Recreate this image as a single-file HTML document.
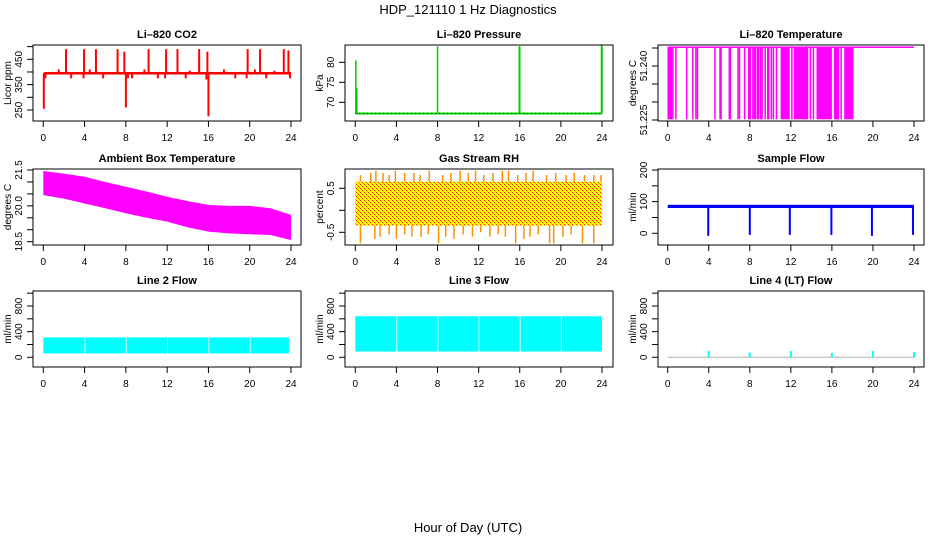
<!DOCTYPE html>
<html><head><meta charset="utf-8">
<style>
body{margin:0;background:#fff;}
svg{display:block;font-family:"Liberation Sans",sans-serif;}
</style></head>
<body>
<svg id="c" width="936" height="540">
<defs>
<pattern id="rhpat" width="4" height="4" patternUnits="userSpaceOnUse">
<rect width="4" height="4" fill="#ffff00"/>
<rect x="0" y="0" width="1" height="1" fill="#ff2000"/>
<rect x="2" y="2" width="1" height="1" fill="#ff2000"/>
<rect x="1" y="1" width="1" height="1" fill="#ff8000"/>
<rect x="3" y="3" width="1" height="1" fill="#ff8000"/>
</pattern>
</defs>
<text x="468" y="14" text-anchor="middle" font-size="13">HDP_121110  1 Hz Diagnostics</text>
<text x="468" y="532" text-anchor="middle" font-size="13">Hour of Day (UTC)</text>
</svg>
<script>
// ---- data ----
const hourTicks = [0,4,8,12,16,20,24];
// CO2
const co2BandLow = 390, co2BandHigh = 400;
const co2SpikeT = [0.05,2.2,3.95,5.1,7.2,7.85,8.0,10.2,11.9,13.0,15.1,15.9,16.0,19.8,21.0,23.3,23.75,1.5,4.5,9.8,14.2,17.5,20.5,22.4];
const co2SpikeV = [255,490,490,490,490,480,260,490,490,490,490,480,225,490,490,490,485,410,410,410,405,410,410,405];
const co2DipT = [0.2,2.7,3.9,5.8,8.2,8.6,11.1,11.8,13.8,15.8,18.6,19.7,21.6,23.9];
const co2DipV = [375,375,375,375,375,375,375,375,375,370,375,375,375,375];
// Pressure
const presBase = 67.2;
const presSpikeT = [0.05,0.15,8.0,15.95,16.0,23.95,24.0];
const presSpikeV = [80.5,73.5,84,84,84,84.5,84];
// Li-820 temperature
const tempTop = 51.2452, tempLow = 51.2252;
const tempDropT = [0.05,0.1,0.25,0.35,0.5,0.8,1.85,2.45,2.75,2.9,4.6,5.1,5.2,6.0,6.1,6.85,7.0,7.5,7.9,8.05,8.3,8.45,8.55,8.75,8.85,9.05,9.2,9.5,9.75,9.85,10.1,10.3,10.6,11.6,12.1,13.9,14.2,16.4,16.9];
const tempFillStart = [11.0,12.3,14.5,16.2,17.2];
const tempFillEnd = [11.9,13.7,16.0,16.7,18.1];
// Ambient box temperature
const ambT = [0,2,4,6,8,10,12,14,16,18,20,22,24];
const ambHigh = [21.46,21.35,21.22,21.0,20.8,20.6,20.38,20.2,20.04,20.0,20.0,19.9,19.62];
const ambLow = [20.45,20.3,20.1,19.9,19.69,19.5,19.34,19.1,18.92,18.85,18.81,18.78,18.57];
// Gas stream RH
const rhHigh = 0.65, rhLow = -0.35;
const rhUpT = [0.5,1.5,2.0,2.7,3.3,3.9,4.8,5.7,6.3,7.2,8.5,9.3,10.2,11.0,11.7,12.5,13.4,14.3,14.9,15.8,16.6,17.3,18.6,19.5,20.5,21.3,22.3,23.2,23.9];
const rhUpV = [0.8,0.85,0.9,0.85,0.8,0.9,0.85,0.85,0.8,0.9,0.8,0.85,0.9,0.85,0.9,0.8,0.85,0.9,0.9,0.8,0.85,0.9,0.8,0.85,0.8,0.85,0.8,0.8,0.8];
const rhDnT = [0.5,1.9,2.4,3.3,4.0,4.8,5.5,6.4,7.1,8.1,8.8,9.6,10.5,11.4,12.2,13.1,13.9,14.6,15.6,16.4,17.0,17.8,18.9,19.3,20.2,21.0,22.1,23.2];
const rhDnV = [-0.75,-0.65,-0.6,-0.55,-0.65,-0.55,-0.6,-0.6,-0.55,-0.75,-0.6,-0.65,-0.55,-0.6,-0.5,-0.6,-0.55,-0.6,-0.75,-0.65,-0.6,-0.55,-0.75,-0.75,-0.6,-0.55,-0.75,-0.75];
// Sample flow
const sfLow = 80, sfHigh = 90;
const sfDropT = [3.95,8.0,11.9,15.95,19.9,23.9];
const sfDropV = [-8,-5,-5,-5,-8,-5];
// Line 2 / Line 3
const flowGapT = [4,8,12,16,20];
const l2Low = 60, l2High = 310, l2End = 23.8;
const l3Low = 90, l3High = 640, l3End = 24.0;
// Line 4
const l4SpikeT = [4,8,12,16,20,24];
const l4SpikeV = [100,75,100,70,100,80];

// ---- layout ----
const svg = document.getElementById('c');
const NS = 'http://www.w3.org/2000/svg';
const cols = [{l:33,r:301,x0:43.3,x1:291},{l:345,r:613,x0:355.3,x1:602},{l:658,r:924,x0:667.7,x1:914}];
const rows = [{t:45,b:121},{t:169,b:245},{t:291,b:367}];
function el(tag, attrs, parent){const e=document.createElementNS(NS,tag);for(const k in attrs)e.setAttribute(k,attrs[k]);(parent||svg).appendChild(e);return e;}
function panel(name,title,ci,ri,v1,y1,v2,y2,ticks,labels,ylab){
  const c=cols[ci], r=rows[ri];
  const g=el('g',{});
  
  
  const P={g:g,c:c,r:r,
    x:t=>c.x0+(c.x1-c.x0)*t/24,
    y:v=>y1+(v-v1)*(y2-y1)/(v2-v1)};
  const tt=el('text',{x:(c.l+c.r)/2,y:r.t-7,'text-anchor':'middle','font-size':11,'font-weight':'bold'},g);
  tt.textContent=title;
  
  
  P.marks=el('g',{},g);
  const box=el('rect',{x:c.l,y:r.t,width:c.r-c.l,height:r.b-r.t,fill:'none',stroke:'#000','stroke-width':1},g);
  
  
  const xa=el('g',{},g);
  
  
  el('line',{x1:P.x(0),x2:P.x(24),y1:r.b,y2:r.b,stroke:'#000'},xa);
  hourTicks.forEach(h=>{
    el('line',{x1:P.x(h),x2:P.x(h),y1:r.b,y2:r.b+6,stroke:'#000'},xa);
    const t=el('text',{x:P.x(h),y:r.b+20,'text-anchor':'middle','font-size':10},xa);t.textContent=h;
  });
  const ya=el('g',{},g);
  
  
  el('line',{x1:c.l,x2:c.l,y1:P.y(ticks[0]),y2:P.y(ticks[ticks.length-1]),stroke:'#000'},ya);
  ticks.forEach(v=>el('line',{x1:c.l-6,x2:c.l,y1:P.y(v),y2:P.y(v),stroke:'#000'},ya));
  labels.forEach(s=>{
    const yy=P.y(parseFloat(s));
    const t=el('text',{x:c.l-11,y:yy,'text-anchor':'middle','font-size':10,transform:`rotate(-90 ${c.l-11} ${yy})`},ya);t.textContent=s;
  });
  const yl=el('text',{x:c.l-22,y:(r.t+r.b)/2,'text-anchor':'middle','font-size':10,transform:`rotate(-90 ${c.l-22} ${(r.t+r.b)/2})`},g);
  yl.textContent=ylab;
  
  
  return P;
}
function vline(P,t,a,b,color,w){el('line',{x1:P.x(t),x2:P.x(t),y1:P.y(a),y2:P.y(b),stroke:color,'stroke-width':w||1.5},P.marks);}
function band(P,t0,t1,lo,hi,fill){el('rect',{x:P.x(t0),y:P.y(hi),width:P.x(t1)-P.x(t0),height:P.y(lo)-P.y(hi),fill:fill},P.marks);}

// CO2
let P=panel('co2','Li\u2013820 CO2',0,0,250,110,450,59.3,[250,300,350,400,450,500],['250','350','450'],'Licor ppm');
band(P,0.05,24,co2BandLow,co2BandHigh,'#ff0000');
co2SpikeT.forEach((t,i)=>vline(P,t,395,co2SpikeV[i],'#ff0000',2));
co2DipT.forEach((t,i)=>vline(P,t,392,co2DipV[i],'#ff0000',2));
// Pressure
P=panel('pressure','Li\u2013820 Pressure',1,0,70,102.3,80,62.3,[70,75,80],['70','75','80'],'kPa');
el('line',{x1:P.x(0),x2:P.x(24),y1:P.y(presBase),y2:P.y(presBase),stroke:'#00dd00','stroke-width':2},P.marks);
el('line',{x1:P.x(0),x2:P.x(24),y1:P.y(presBase),y2:P.y(presBase),stroke:'#000','stroke-width':1,'stroke-dasharray':'1 3'},P.marks);
presSpikeT.forEach((t,i)=>vline(P,t,presBase,presSpikeV[i],'#00cc00',1.5));
// Temperature
P=panel('li820-temp','Li\u2013820 Temperature',2,0,51.225,120,51.240,66,[51.225,51.230,51.235,51.240,51.245],['51.225','51.240'],'degrees C');
el('line',{x1:P.x(0),x2:P.x(24),y1:P.y(tempTop),y2:P.y(tempTop),stroke:'#ff00ff','stroke-width':1.5},P.marks);
tempDropT.forEach(t=>vline(P,t,tempTop,tempLow,'#ff00ff',1.5));
tempFillStart.forEach((s,i)=>band(P,s,tempFillEnd[i],tempLow,tempTop,'#ff00ff'));
// Ambient
P=panel('ambient-temp','Ambient Box Temperature',0,1,21.5,170,18.5,241.7,[18.5,19,19.5,20,20.5,21,21.5],['18.5','20.0','21.5'],'degrees C');
{let pts=ambT.map((t,i)=>P.x(t)+','+P.y(ambHigh[i]));
 for(let i=ambT.length-1;i>=0;i--)pts.push(P.x(ambT[i])+','+P.y(ambLow[i]));
 el('polygon',{points:pts.join(' '),fill:'#ff00ff'},P.marks);}
// RH
P=panel('gas-rh','Gas Stream RH',1,1,0.5,188.3,-0.5,232.3,[-0.5,0,0.5],['-0.5','0.5'],'percent');
band(P,0,24,rhLow,rhHigh,'url(#rhpat)');
rhUpT.forEach((t,i)=>vline(P,t,rhHigh,rhUpV[i],'#ff9000',1.5));
rhDnT.forEach((t,i)=>vline(P,t,rhLow,rhDnV[i],'#ff9000',1.5));
// Sample flow
P=panel('sample-flow','Sample Flow',2,1,0,233.3,200,170,[0,50,100,150,200],['0','100','200'],'ml/min');
band(P,0,24,sfLow,sfHigh,'#0000ff');
sfDropT.forEach((t,i)=>vline(P,t,sfLow,sfDropV[i],'#0000ff',2));
// Line 2 / 3
function flowBands(P,lo,hi,end){
  const edges=[0].concat(flowGapT,[end]);
  for(let i=0;i<edges.length-1;i++)band(P,edges[i]+(i?0.08:0),edges[i+1],lo,hi,'#00ffff');
}
P=panel('line2-flow','Line 2 Flow',0,2,0,357.3,800,306,[0,200,400,600,800,1000],['0','400','800'],'ml/min');
flowBands(P,l2Low,l2High,l2End);
P=panel('line3-flow','Line 3 Flow',1,2,0,357.3,800,306,[0,200,400,600,800,1000],['0','400','800'],'ml/min');
flowBands(P,l3Low,l3High,l3End);
// Line 4
P=panel('line4-flow','Line 4 (LT) Flow',2,2,0,357.3,800,306,[0,200,400,600,800,1000],['0','400','800'],'ml/min');
el('line',{x1:P.x(0),x2:P.x(24),y1:P.y(0),y2:P.y(0),stroke:'#b0b0b0','stroke-width':1},P.marks);
l4SpikeT.forEach((t,i)=>vline(P,t,0,l4SpikeV[i],'#00ffff',2));
</script>
</body></html>
